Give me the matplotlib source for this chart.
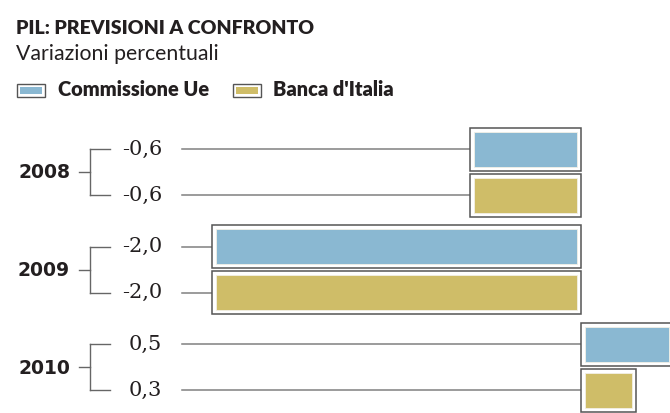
import matplotlib
matplotlib.use("Agg")
import matplotlib.pyplot as plt
from matplotlib.transforms import blended_transform_factory

years = ["2008", "2009", "2010"]
series = ["Commissione Ue", "Banca d'Italia"]
commissione = [-0.6, -2.0, 0.5]
banca = [-0.6, -2.0, 0.3]
labels_comm = ["-0,6", "-2,0", "0,5"]
labels_banca = ["-0,6", "-2,0", "0,3"]
colors = ["#8AB8D2", "#CFBD68"]

W, H = 670, 413
fig = plt.figure(figsize=(W / 100, H / 100), dpi=100)
fig.patch.set_facecolor("white")
ax = fig.add_axes([0, 0, 1, 1])
ax.axis("off")
# x in data units (percent), y in pixel rows from top
ppu = 184.5
x0 = 581
ax.set_xlim(-x0 / ppu, (W - x0) / ppu)
ax.set_ylim(H, 0)

trans = blended_transform_factory(fig.transFigure, ax.transData)
def fx(px):
    return px / W

cond_bold = dict(family=["Lato", "DejaVu Sans"], weight="heavy")

fig.text(fx(16), 1 - 28 / H, "PIL: PREVISIONI A CONFRONTO", fontsize=14,
         va="center", ha="left", color="#231f20", **cond_bold)
fig.text(fx(16), 1 - 54 / H, "Variazioni percentuali", fontsize=15.3,
         va="center", ha="left", color="#231f20",
         family=["Lato", "DejaVu Sans"])

# legend
leg_items = [(17, 58, series[0], colors[0]), (233, 273, series[1], colors[1])]
for bx, tx, name, c in leg_items:
    fig.patches.append(plt.Rectangle((fx(bx), 1 - 97 / H), 28 / W, 13 / H,
                                     transform=fig.transFigure, facecolor="white",
                                     edgecolor="#555555", linewidth=1.0))
    fig.patches.append(plt.Rectangle((fx(bx + 3), 1 - 94 / H), 22 / W, 7 / H,
                                     transform=fig.transFigure, facecolor=c,
                                     edgecolor="none"))
    fig.text(fx(tx), 1 - 90 / H, name, fontsize=14.4, va="center", ha="left",
             color="#231f20", **cond_bold)

gap_group = 97.5
gap_bar = 46
top = 149
outer_h = 43
inner_h = 35
inset = 4 / ppu

for g, yr in enumerate(years):
    yc = top + g * gap_group
    ys = [yc, yc + gap_bar]
    vals = [commissione[g], banca[g]]
    labs = [labels_comm[g], labels_banca[g]]
    mid = (ys[0] + ys[1]) / 2
    # year label
    ax.text(fx(70), mid + 1, yr, transform=trans, ha="right", va="center",
            fontsize=13.5, weight="bold", color="#231f20", family="DejaVu Sans")
    # bracket
    ax.plot([fx(79), fx(90)], [mid, mid], transform=trans, color="#666666", lw=1.0)
    ax.plot([fx(90), fx(90)], [ys[0], ys[1]], transform=trans, color="#666666", lw=1.0)
    for y in ys:
        ax.plot([fx(90), fx(110)], [y, y], transform=trans, color="#666666", lw=1.0)
    for k in range(2):
        v = vals[k]
        y = ys[k]
        ax.text(fx(162), y, labs[k], transform=trans, ha="right", va="center",
                fontsize=15, color="#231f20", family="DejaVu Serif")
        start = min(v, 0)
        # leader line to bar start
        ax.plot([-x0 / ppu + 182 / ppu, start], [y, y], color="#808080", lw=1.1,
                zorder=1)
        ax.barh(y, v, height=outer_h, color="white", edgecolor="#555555",
                linewidth=1.1, zorder=2)
        sign = 1 if v > 0 else -1
        ax.barh(y, v - 2 * sign * inset, left=sign * inset, height=inner_h,
                color=colors[k], edgecolor="#f2f0e6", linewidth=0.6, zorder=3)

fig.savefig("out.png", dpi=100, facecolor="white")
